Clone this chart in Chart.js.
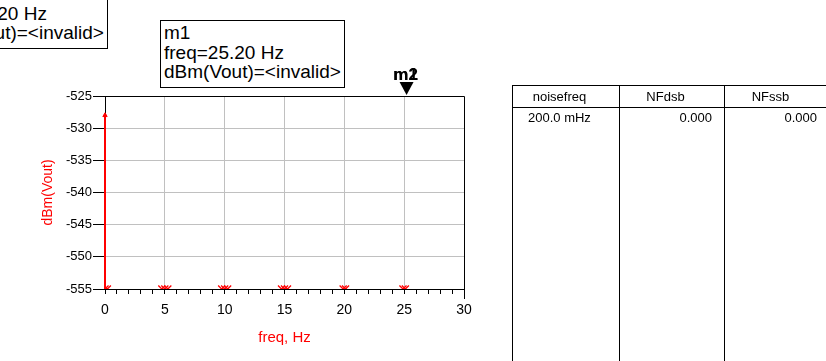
<!DOCTYPE html>
<html>
<head>
<meta charset="utf-8">
<script src="https://cdn.jsdelivr.net/npm/chart.js@4/dist/chart.umd.min.js"></script>
<style>
  html, body { margin: 0; padding: 0; background: #fff; }
  body { width: 826px; height: 361px; position: relative; overflow: hidden; font-family: "Liberation Sans", Arial, sans-serif; }
  #wrap { position: absolute; left: 0; top: 0; width: 826px; height: 361px; }
  .mbox { position: absolute; width: 180px; height: 64px; border: 1px solid #000; background: #fff;
          font-size: 19px; line-height: 19.5px; padding: 2px 0 0 3px; box-sizing: content-box; white-space: nowrap; color: #000; }
  .tline { position: absolute; background: #000; }
  .tcell { position: absolute; font-size: 13px; color: #000; white-space: nowrap; }
</style>
</head>
<body>
<div id="wrap"><canvas id="plot" width="826" height="361"></canvas></div>

<div class="mbox" style="left:-77px; top:-19px;">m2<br>freq=25.20 Hz<br>dBm(Vout)=&lt;invalid&gt;</div>
<div class="mbox" style="left:160px; top:20px;">m1<br>freq=25.20 Hz<br>dBm(Vout)=&lt;invalid&gt;</div>

<div id="table"></div>

<script>
// ---- data ----
const xTicks = [0, 5, 10, 15, 20, 25, 30];
const yTicks = [-555, -550, -545, -540, -535, -530, -525];

// off-scale trace at freq = 0
const traceFreq = [0, 0];
const traceDbm = [-528, -555];

// clustered sample markers along the bottom edge
const sampleFreq = [0, 0.2, 4.75, 5, 5.25, 9.75, 10, 10.25, 14.75, 15, 15.25, 19.9, 20.1, 24.9, 25.1];
const sampleDbm = [-555, -555, -555, -555, -555, -555, -555, -555, -555, -555, -555, -555, -555, -555, -555];

// marker m1 / m2
const markerNames = ['m2', 'm1'];
const markerFreq = 25.2;

// table
const tableHead = ['noisefreq', 'NFdsb', 'NFssb'];
const tableRow = ['200.0 mHz', '0.000', '0.000'];

// ---- table ----
const table = document.getElementById('table');
function line(l, t, w, h) {
  const d = document.createElement('div');
  d.className = 'tline';
  d.style.cssText = 'left:' + l + 'px;top:' + t + 'px;width:' + w + 'px;height:' + h + 'px';
  table.appendChild(d);
}
line(512, 85, 314, 1);
line(512, 107, 314, 1);
[512, 619, 724].forEach(function (x) { line(x, 85, 1, 276); });

const colLeft = [512, 619, 724];
const colW = [107, 105, 105];
tableHead.forEach(function (t, i) {
  const c = document.createElement('div');
  c.className = 'tcell';
  c.textContent = t;
  c.style.cssText = 'left:' + (colLeft[i] - 6) + 'px;top:89px;width:' + colW[i] + 'px;text-align:center';
  table.appendChild(c);
});
tableRow.forEach(function (t, i) {
  const c = document.createElement('div');
  c.className = 'tcell';
  c.textContent = t;
  if (i === 0) c.style.cssText = 'left:528px;top:110px';
  else c.style.cssText = 'left:' + colLeft[i] + 'px;top:110px;width:' + (colW[i] - 12) + 'px;text-align:right';
  table.appendChild(c);
});

// ---- chart ----
Chart.defaults.color = '#000';
Chart.defaults.font.family = '"Liberation Sans", Arial, sans-serif';

const framePlugin = {
  id: 'frame',
  beforeDatasetsDraw(chart) {
    const a = chart.chartArea, ctx = chart.ctx;
    ctx.save();
    ctx.strokeStyle = '#000';
    ctx.lineWidth = 1;
    ctx.beginPath();
    ctx.moveTo(a.left, a.top + 0.5);
    ctx.lineTo(a.right + 0.5, a.top + 0.5);
    ctx.lineTo(a.right + 0.5, a.bottom + 10);
    ctx.stroke();
    ctx.restore();
  },
  afterDraw(chart) {
    const a = chart.chartArea, ctx = chart.ctx;
    const x = chart.scales.x.getPixelForValue(markerFreq);
    ctx.save();
    ctx.fillStyle = '#000';
    ctx.beginPath();
    ctx.moveTo(x - 7, a.top - 14);
    ctx.lineTo(x + 7, a.top - 14);
    ctx.lineTo(x, a.top - 1);
    ctx.closePath();
    ctx.fill();
    ctx.font = 'bold 17px "Liberation Sans", Arial, sans-serif';
    ctx.textAlign = 'center';
    ctx.textBaseline = 'alphabetic';
    markerNames.forEach(function (n) { ctx.fillText(n, x - 1, a.top - 16); });
    ctx.restore();
  }
};

new Chart(document.getElementById('plot').getContext('2d'), {
  type: 'scatter',
  data: {
    datasets: [
      {
        data: traceFreq.map(function (f, i) { return { x: f, y: traceDbm[i] }; }),
        showLine: true,
        borderColor: '#ff0000',
        backgroundColor: '#ff0000',
        borderWidth: 2,
        pointStyle: ['triangle', false],
        pointRadius: [2.5, 0],
        pointBorderWidth: 1,
        clip: { left: 4, top: 4, right: 4, bottom: 0 },
      },
      {
        data: sampleFreq.map(function (f, i) { return { x: f, y: sampleDbm[i] }; }),
        showLine: false,
        borderColor: '#ff0000',
        backgroundColor: '#ff0000',
        pointStyle: 'crossRot',
        pointRadius: 5,
        pointBorderWidth: 1.3,
        clip: 0,
      }
    ]
  },
  options: {
    responsive: false,
    animation: false,
    events: [],
    layout: { padding: { left: 40, top: 96, right: 362, bottom: 14 } },
    scales: {
      x: {
        type: 'linear',
        min: 0, max: 30,
        afterFit: function (s) { s.height = 58; },
        afterBuildTicks: function (s) {
          const t = [];
          for (let v = 0; v <= 30; v++) t.push({ value: v });
          s.ticks = t;
        },
        ticks: {
          autoSkip: false, maxRotation: 0, padding: 8,
          font: { size: 14 },
          callback: function (v) { return xTicks.indexOf(v) >= 0 ? String(v) : ''; }
        },
        grid: {
          tickLength: 5,
          tickColor: '#000',
          color: function (c) {
            const v = c.tick && c.tick.value;
            return (v > 0 && v < 30 && v % 5 === 0) ? '#c0c0c0' : 'rgba(0,0,0,0)';
          }
        },
        border: { color: '#000', width: 1 },
        title: { display: true, text: 'freq, Hz', color: '#ff0000', font: { size: 15 }, padding: 0 }
      },
      y: {
        type: 'linear',
        min: -555, max: -525,
        afterFit: function (s) { s.width = 65; },
        afterBuildTicks: function (s) { s.ticks = yTicks.map(function (v) { return { value: v }; }); },
        ticks: { padding: 1, font: { size: 13 } },
        grid: {
          tickLength: 12,
          tickColor: '#000',
          color: function (c) {
            const v = c.tick && c.tick.value;
            return (v > -555 && v < -525) ? '#c0c0c0' : 'rgba(0,0,0,0)';
          }
        },
        border: { color: '#000', width: 1 },
        title: { display: true, text: 'dBm(Vout)', color: '#ff0000', font: { size: 14 }, padding: 0 }
      }
    },
    plugins: {
      legend: { display: false },
      tooltip: { enabled: false }
    }
  },
  plugins: [framePlugin]
});
</script>
</body>
</html>
